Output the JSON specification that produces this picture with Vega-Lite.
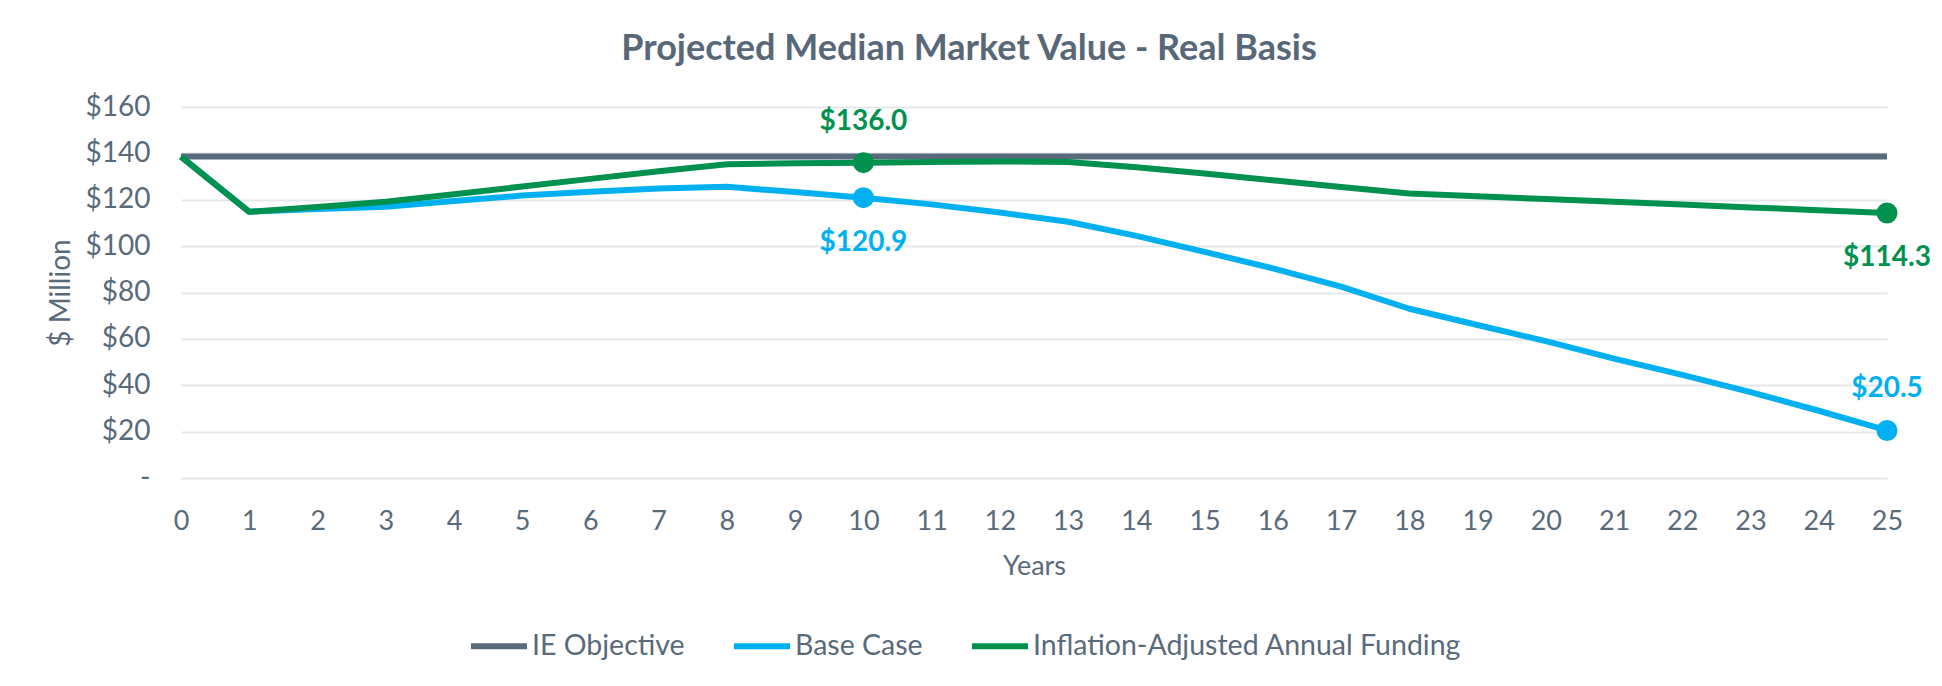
{
  "$schema": "https://vega.github.io/schema/vega-lite/v6.json",
  "width": 1706,
  "height": 371,
  "autosize": {"type": "none"},
  "padding": {"left": 181, "top": 107, "right": 55, "bottom": 208},
  "background": "white",
  "config": {"view": {"stroke": null}, "font": "Lato"},
  "title": {
    "text": "Projected Median Market Value - Real Basis",
    "fontSize": 36,
    "fontWeight": "bold",
    "color": "#586878",
    "font": "Lato",
    "anchor": "middle",
    "frame": "group",
    "baseline": "alphabetic",
    "dx": -65,
    "dy": 49,
    "offset": 46
  },
  "datasets": {
    "series": [
      {"year": 0, "series": "IE Objective", "value": 138.6},
      {"year": 1, "series": "IE Objective", "value": 138.6},
      {"year": 2, "series": "IE Objective", "value": 138.6},
      {"year": 3, "series": "IE Objective", "value": 138.6},
      {"year": 4, "series": "IE Objective", "value": 138.6},
      {"year": 5, "series": "IE Objective", "value": 138.6},
      {"year": 6, "series": "IE Objective", "value": 138.6},
      {"year": 7, "series": "IE Objective", "value": 138.6},
      {"year": 8, "series": "IE Objective", "value": 138.6},
      {"year": 9, "series": "IE Objective", "value": 138.6},
      {"year": 10, "series": "IE Objective", "value": 138.6},
      {"year": 11, "series": "IE Objective", "value": 138.6},
      {"year": 12, "series": "IE Objective", "value": 138.6},
      {"year": 13, "series": "IE Objective", "value": 138.6},
      {"year": 14, "series": "IE Objective", "value": 138.6},
      {"year": 15, "series": "IE Objective", "value": 138.6},
      {"year": 16, "series": "IE Objective", "value": 138.6},
      {"year": 17, "series": "IE Objective", "value": 138.6},
      {"year": 18, "series": "IE Objective", "value": 138.6},
      {"year": 19, "series": "IE Objective", "value": 138.6},
      {"year": 20, "series": "IE Objective", "value": 138.6},
      {"year": 21, "series": "IE Objective", "value": 138.6},
      {"year": 22, "series": "IE Objective", "value": 138.6},
      {"year": 23, "series": "IE Objective", "value": 138.6},
      {"year": 24, "series": "IE Objective", "value": 138.6},
      {"year": 25, "series": "IE Objective", "value": 138.6},
      {"year": 0, "series": "Base Case", "value": 138.6},
      {"year": 1, "series": "Base Case", "value": 114.8},
      {"year": 2, "series": "Base Case", "value": 116.0},
      {"year": 3, "series": "Base Case", "value": 117.0},
      {"year": 4, "series": "Base Case", "value": 119.5},
      {"year": 5, "series": "Base Case", "value": 121.8},
      {"year": 6, "series": "Base Case", "value": 123.5},
      {"year": 7, "series": "Base Case", "value": 124.8},
      {"year": 8, "series": "Base Case", "value": 125.6},
      {"year": 9, "series": "Base Case", "value": 123.3},
      {"year": 10, "series": "Base Case", "value": 120.9},
      {"year": 11, "series": "Base Case", "value": 118.0},
      {"year": 12, "series": "Base Case", "value": 114.5},
      {"year": 13, "series": "Base Case", "value": 110.5},
      {"year": 14, "series": "Base Case", "value": 104.4},
      {"year": 15, "series": "Base Case", "value": 97.5},
      {"year": 16, "series": "Base Case", "value": 90.4},
      {"year": 17, "series": "Base Case", "value": 82.5},
      {"year": 18, "series": "Base Case", "value": 73.0},
      {"year": 19, "series": "Base Case", "value": 66.0},
      {"year": 20, "series": "Base Case", "value": 59.0},
      {"year": 21, "series": "Base Case", "value": 51.5},
      {"year": 22, "series": "Base Case", "value": 44.5},
      {"year": 23, "series": "Base Case", "value": 37.0},
      {"year": 24, "series": "Base Case", "value": 29.0},
      {"year": 25, "series": "Base Case", "value": 20.5},
      {"year": 0, "series": "Inflation-Adjusted Annual Funding", "value": 138.6},
      {"year": 1, "series": "Inflation-Adjusted Annual Funding", "value": 114.8},
      {"year": 2, "series": "Inflation-Adjusted Annual Funding", "value": 116.9},
      {"year": 3, "series": "Inflation-Adjusted Annual Funding", "value": 119.1},
      {"year": 4, "series": "Inflation-Adjusted Annual Funding", "value": 122.4},
      {"year": 5, "series": "Inflation-Adjusted Annual Funding", "value": 125.7},
      {"year": 6, "series": "Inflation-Adjusted Annual Funding", "value": 129.0},
      {"year": 7, "series": "Inflation-Adjusted Annual Funding", "value": 132.3},
      {"year": 8, "series": "Inflation-Adjusted Annual Funding", "value": 135.3},
      {"year": 9, "series": "Inflation-Adjusted Annual Funding", "value": 135.7},
      {"year": 10, "series": "Inflation-Adjusted Annual Funding", "value": 136.0},
      {"year": 11, "series": "Inflation-Adjusted Annual Funding", "value": 136.3},
      {"year": 12, "series": "Inflation-Adjusted Annual Funding", "value": 136.5},
      {"year": 13, "series": "Inflation-Adjusted Annual Funding", "value": 136.3},
      {"year": 14, "series": "Inflation-Adjusted Annual Funding", "value": 134.0},
      {"year": 15, "series": "Inflation-Adjusted Annual Funding", "value": 131.3},
      {"year": 16, "series": "Inflation-Adjusted Annual Funding", "value": 128.4},
      {"year": 17, "series": "Inflation-Adjusted Annual Funding", "value": 125.5},
      {"year": 18, "series": "Inflation-Adjusted Annual Funding", "value": 122.7},
      {"year": 19, "series": "Inflation-Adjusted Annual Funding", "value": 121.5},
      {"year": 20, "series": "Inflation-Adjusted Annual Funding", "value": 120.3},
      {"year": 21, "series": "Inflation-Adjusted Annual Funding", "value": 119.1},
      {"year": 22, "series": "Inflation-Adjusted Annual Funding", "value": 117.9},
      {"year": 23, "series": "Inflation-Adjusted Annual Funding", "value": 116.7},
      {"year": 24, "series": "Inflation-Adjusted Annual Funding", "value": 115.5},
      {"year": 25, "series": "Inflation-Adjusted Annual Funding", "value": 114.3}
    ],
    "labels": [
      {"year": 10, "series": "Inflation-Adjusted Annual Funding", "value": 136.0, "label": "$136.0", "pos": "above"},
      {"year": 10, "series": "Base Case", "value": 120.9, "label": "$120.9", "pos": "below"},
      {"year": 25, "series": "Inflation-Adjusted Annual Funding", "value": 114.3, "label": "$114.3", "pos": "below"},
      {"year": 25, "series": "Base Case", "value": 20.5, "label": "$20.5", "pos": "above"}
    ]
  },
  "encoding": {
    "x": {
      "field": "year",
      "type": "quantitative",
      "scale": {"domain": [0, 25], "nice": false, "zero": false},
      "axis": {
        "values": [0,1,2,3,4,5,6,7,8,9,10,11,12,13,14,15,16,17,18,19,20,21,22,23,24,25],
        "format": "d",
        "title": "Years",
        "grid": false,
        "domain": false,
        "ticks": false,
        "labelPadding": 30,
        "labelFontSize": 27,
        "labelColor": "#596a7b",
        "labelFont": "Lato",
        "labelFlush": false,
        "titleFontSize": 27,
        "titleFont": "Lato",
        "titleFontWeight": "normal",
        "titleColor": "#596a7b",
        "titlePadding": 19
      }
    },
    "y": {
      "field": "value",
      "type": "quantitative",
      "scale": {"domain": [0, 160], "nice": false},
      "axis": {
        "values": [0,20,40,60,80,100,120,140,160],
        "labelExpr": "datum.value == 0 ? '-' : '$' + datum.value",
        "title": "$ Million",
        "grid": true,
        "gridColor": "#e3e7ea",
        "gridWidth": 2,
        "domain": false,
        "ticks": false,
        "labelPadding": 31,
        "labelFontSize": 28,
        "labelColor": "#596a7b",
        "labelFont": "Lato",
        "titleFontSize": 28,
        "titleFont": "Lato",
        "titleFontWeight": "normal",
        "titleColor": "#596a7b",
        "titlePadding": 10
      }
    }
  },
  "layer": [
    {
      "data": {"name": "series"},
      "mark": {"type": "line", "strokeWidth": 6, "strokeJoin": "round", "strokeCap": "butt"},
      "encoding": {
        "color": {
          "field": "series",
          "type": "nominal",
          "scale": {
            "domain": ["IE Objective", "Base Case", "Inflation-Adjusted Annual Funding"],
            "range": ["#586a7b", "#00b0f0", "#00914f"]
          },
          "legend": {
            "orient": "none",
            "legendX": 287,
            "legendY": 508,
            "direction": "horizontal",
            "title": null,
            "symbolType": "stroke",
            "symbolSize": 3136,
            "symbolStrokeWidth": 6,
            "labelFontSize": 28.5,
            "labelFont": "Lato",
            "labelColor": "#596a7b",
            "labelLimit": 700,
            "labelOffset": 2,
            "columnPadding": 37
          }
        }
      }
    },
    {
      "data": {"name": "labels"},
      "mark": {"type": "circle", "size": 440, "opacity": 1},
      "encoding": {
        "fill": {
          "field": "series",
          "type": "nominal",
          "scale": {
            "domain": ["IE Objective", "Base Case", "Inflation-Adjusted Annual Funding"],
            "range": ["#586a7b", "#00b0f0", "#00914f"]
          },
          "legend": null
        }
      }
    },
    {
      "data": {"name": "labels"},
      "transform": [{"filter": "datum.pos == 'above'"}],
      "mark": {"type": "text", "fontSize": 28, "fontWeight": "bold", "font": "Lato", "baseline": "middle", "align": "center", "dy": -41},
      "encoding": {
        "text": {"field": "label"},
        "fill": {"field": "series", "type": "nominal", "legend": null}
      }
    },
    {
      "data": {"name": "labels"},
      "transform": [{"filter": "datum.pos == 'below'"}],
      "mark": {"type": "text", "fontSize": 28, "fontWeight": "bold", "font": "Lato", "baseline": "middle", "align": "center", "dy": 45},
      "encoding": {
        "text": {"field": "label"},
        "fill": {"field": "series", "type": "nominal", "legend": null}
      }
    }
  ]
}
